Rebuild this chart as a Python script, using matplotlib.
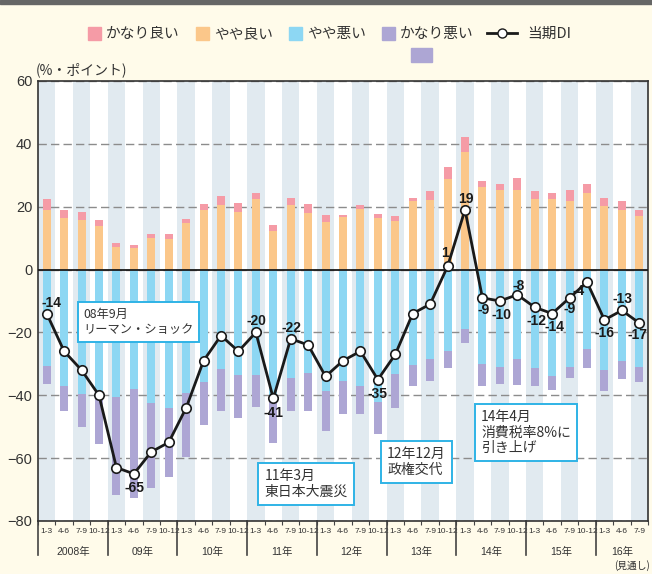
import matplotlib
matplotlib.use('Agg')
import matplotlib.pyplot as plt
import matplotlib.transforms as mtransforms
from matplotlib import font_manager
from matplotlib.patches import Patch, Rectangle
from matplotlib.lines import Line2D
from matplotlib.legend_handler import HandlerPatch
import numpy as np

plt.rcParams['font.family'] = ['Noto Sans CJK JP', 'DejaVu Sans']
_names = {f.name for f in font_manager.fontManager.ttflist}
NARROW = 'Liberation Sans Narrow' if 'Liberation Sans Narrow' in _names else 'Liberation Sans'

# --- data (quarters 2008 1-3 .. 2016 7-9) ---
quarters = ['1-3', '4-6', '7-9', '10-12'] * 8 + ['1-3', '4-6', '7-9']
years = ['2008年', '09年', '10年', '11年', '12年', '13年', '14年', '15年', '16年']
quarters_per_year = [4, 4, 4, 4, 4, 4, 4, 4, 3]

very_good = np.array([3.5, 2.6, 2.5, 1.9, 1.3, 0.9, 1.3, 1.6, 1.3, 1.9, 2.8, 2.9,
                      1.9, 1.9, 2.2, 2.9, 2.2, 0.7, 1.3, 1.3, 1.6, 1.0, 2.9, 3.8,
                      4.8, 1.9, 1.9, 3.8, 2.5, 1.9, 3.5, 2.8, 2.5, 2.8, 1.9])
rather_good = np.array([19.0, 16.4, 15.8, 13.9, 7.2, 6.9, 10.0, 9.7, 14.8, 19.0, 20.6, 18.3,
                        22.5, 12.3, 20.6, 18.0, 15.2, 16.7, 19.3, 16.4, 15.5, 21.8, 22.1, 28.8,
                        37.4, 26.3, 25.3, 25.3, 22.5, 22.5, 21.8, 24.4, 20.3, 19.0, 17.1])
rather_bad = np.array([30.7, 37.0, 39.6, 39.9, 40.4, 38.0, 42.3, 43.9, 39.4, 35.8, 31.6, 33.5,
                       33.4, 42.0, 34.4, 32.8, 38.6, 35.3, 37.2, 42.0, 33.2, 30.4, 28.5, 25.9,
                       18.9, 30.1, 31.0, 28.5, 31.3, 33.9, 31.0, 25.3, 31.9, 29.1, 31.0])
very_bad = np.array([5.7, 8.0, 10.5, 15.7, 31.3, 34.6, 27.1, 22.0, 20.1, 13.6, 13.4, 13.7,
                     10.2, 13.3, 10.5, 12.1, 12.7, 10.8, 8.9, 10.3, 10.9, 6.6, 6.9, 5.4,
                     4.4, 6.9, 5.4, 8.2, 5.7, 4.4, 3.5, 6.0, 6.7, 5.7, 4.8])
di = np.array([-14, -26, -32, -40, -63, -65, -58, -55, -44, -29, -21, -26,
               -20, -41, -22, -24, -34, -29, -26, -35, -27, -14, -11, 1,
               19, -9, -10, -8, -12, -14, -9, -4, -16, -13, -17])

# which DI points carry a value label, and where the label sits (offset in points)
label_offsets = {0: (3.5, 7.5), 5: (0.5, -10), 12: (0.5, 8.3), 13: (0, -10.4), 14: (0.7, 8),
                 19: (0, -10.4), 23: (-1.8, 9.4), 24: (0.9, 7.8), 25: (0.9, -8.7),
                 26: (1.3, -10), 27: (1, 6.6), 28: (1, -9.9), 29: (1.8, -10), 30: (0, -8.2),
                 31: (-6.3, -6.3), 32: (0, -9.8), 33: (0.6, 8.3), 34: (-1.2, -8.8)}

# event notes: text, box left / top in pixels, font size, line spacing
notes = [('08年9月\nリーマン・ショック', 78, 303, 8.8, 1.25),
         ('11年3月\n東日本大震災', 258, 464, 10, 1.12),
         ('12年12月\n政権交代', 381, 442, 10, 1.12),
         ('14年4月\n消費税率8%に\n引き上げ', 475, 405, 10, 1.12)]

C_PINK = '#F59BA6'
C_ORANGE = '#FBC78A'
C_BLUE = '#8DD7F3'
C_PURPLE = '#ADA6D4'
C_STRIPE = '#E1EAF0'
C_BG = '#FFFBEA'
C_TEXT = '#333333'

W, H = 652, 574
fig = plt.figure(figsize=(W / 100, H / 100), dpi=100, facecolor=C_BG)
ax = fig.add_axes([38 / W, 1 - 521 / H, 610 / W, 440 / H])
ax.set_facecolor('white')

x = np.arange(len(quarters))

# alternating column stripes
for i in x[::2]:
    ax.axvspan(i - 0.5, i + 0.5, color=C_STRIPE, lw=0, zorder=0)

bw = 0.46
ax.bar(x, rather_good, bw, color=C_ORANGE, zorder=3)
ax.bar(x, very_good, bw, bottom=rather_good, color=C_PINK, zorder=3)
ax.bar(x, -rather_bad, bw, color=C_BLUE, zorder=3)
ax.bar(x, -very_bad, bw, bottom=-rather_bad, color=C_PURPLE, zorder=3)

ax.axhline(0, color='#1a1a1a', lw=1.3, zorder=4)
ax.plot(x, di, color='#1a1a1a', lw=2.0, marker='o', ms=6.8, mfc='white',
        mec='#1a1a1a', mew=1.2, zorder=6)

for i, (dx, dy) in label_offsets.items():
    ax.annotate(str(di[i]), (x[i], di[i]), xytext=(dx, dy), textcoords='offset points',
                ha='center', va='center', fontsize=10, fontweight='bold',
                family=NARROW, color='#1a1a1a', zorder=7)

ax.set_xlim(-0.5, len(quarters) - 0.5)
ax.set_ylim(-80, 60)
ax.set_yticks(range(-80, 61, 20))
ax.yaxis.grid(True, color='#8c8c8c', lw=1.0, ls=(0, (6, 3)), zorder=1)
ax.set_axisbelow(True)
ax.tick_params(axis='y', length=0, pad=4, labelsize=10.5, labelcolor=C_TEXT)
for t in ax.get_yticklabels():
    t.set_family('Liberation Sans')

ax.set_xticks(x)
ax.set_xticklabels(quarters, fontsize=6, family=NARROW, color=C_TEXT)
ax.set_xticks(np.arange(-0.5, len(quarters), 1), minor=True)
ax.tick_params(axis='x', which='major', length=0, pad=5)
ax.tick_params(axis='x', which='minor', length=3, width=0.8, color='#444444')

for s in ax.spines.values():
    s.set_color('#333333')
    s.set_linewidth(1.2)

# year groups under the quarter labels
trans = mtransforms.blended_transform_factory(ax.transData, ax.transAxes)
start = 0
for yr, n in zip(years, quarters_per_year):
    ax.plot([start - 0.5, start - 0.5], [0, -34 / 440], transform=trans,
            color='#444444', lw=1.2, clip_on=False)
    ax.text(start + (n - 1) / 2, -31 / 440, yr, transform=trans, ha='center', va='center',
            fontsize=7.5, family=[NARROW, 'Noto Sans CJK JP'], color=C_TEXT)
    start += n

fig.text(650 / W, 1 - 566 / H, '(見通し)', ha='right', va='center', fontsize=7, color=C_TEXT)
fig.text(36 / W, 1 - 70 / H, '(%・ポイント)', ha='left', va='center', fontsize=10, color=C_TEXT)

for txt, left, top, fs, lsp in notes:
    pad = 0.45 * fs * 100 / 72
    fig.text((left + pad) / W, 1 - (top + pad - 1) / H, txt, ha='left', va='top', fontsize=fs,
             linespacing=lsp, color=C_TEXT,
             bbox=dict(boxstyle='square,pad=0.45', fc='white', ec='#2FB3E6', lw=1.4))

# legend: square swatches (one legend), DI line (second legend)
LEG_FS = 10.6
em = LEG_FS * 100 / 72


def square_patch(legend, orig_handle, xdescent, ydescent, width, height, fontsize):
    return Rectangle((-xdescent + width - height, -ydescent), height, height)


patch_handles = [Patch(color=C_PINK), Patch(color=C_ORANGE), Patch(color=C_BLUE), Patch(color=C_PURPLE)]
patch_labels = ['かなり良い', 'やや良い', 'やや悪い', 'かなり悪い']
fig.legend(patch_handles, patch_labels, loc='center', bbox_to_anchor=(265 / W, 1 - 34 / H), ncol=4,
           frameon=False, fontsize=LEG_FS, handlelength=45 / em, handleheight=1.0,
           handletextpad=5 / em, columnspacing=-16 / em, labelcolor=C_TEXT,
           handler_map={Patch: HandlerPatch(patch_func=square_patch)})

line_handle = Line2D([], [], color='#1a1a1a', lw=2, marker='o', ms=6.5, mfc='white', mec='#1a1a1a')
fig.legend([line_handle], ['当期DI'], loc='center', bbox_to_anchor=(529 / W, 1 - 34 / H),
           frameon=False, fontsize=LEG_FS, handlelength=30 / em, handletextpad=11 / em,
           labelcolor=C_TEXT)

fig.patches.append(Rectangle((411 / W, 1 - 62 / H), 21 / W, 14 / H, transform=fig.transFigure,
                             color=C_PURPLE, figure=fig))

# dark strip along the top edge
fig.patches.append(Rectangle((0, 1 - 4 / H), 1, 4 / H, transform=fig.transFigure,
                             color='#666666', figure=fig))

fig.savefig('out.png', dpi=100, facecolor=fig.get_facecolor())
